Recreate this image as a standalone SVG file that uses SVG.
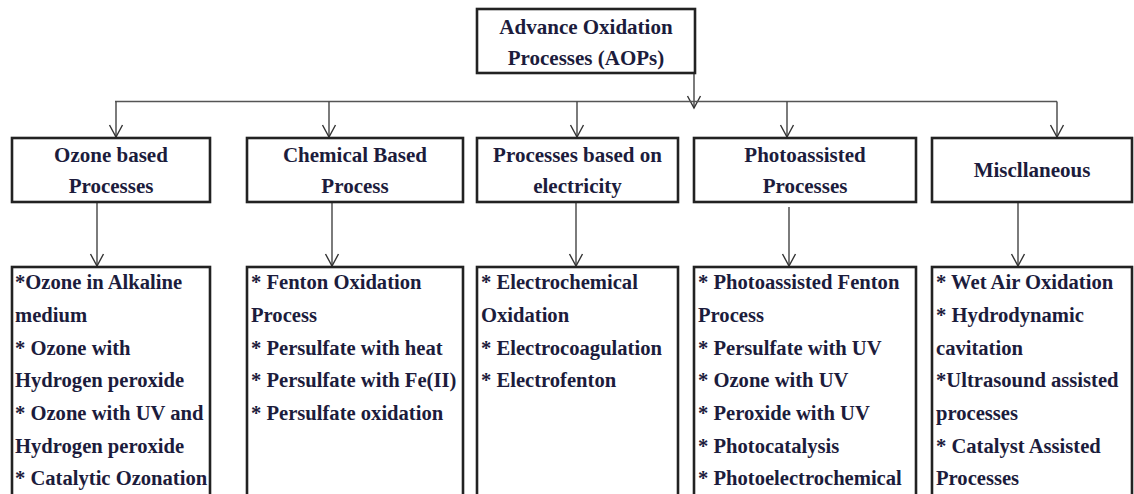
<svg xmlns="http://www.w3.org/2000/svg" width="1134" height="494" viewBox="0 0 1134 494">
<defs>
<style>
.box{fill:#fff;stroke:#222;stroke-width:2.6}
.hd{font-family:"Liberation Serif","Times New Roman",serif;font-weight:bold;font-size:21px;fill:#1c1c3c;text-anchor:middle}
.it{font-family:"Liberation Serif","Times New Roman",serif;font-weight:bold;font-size:20.6px;fill:#1c1c3c}
.ln{stroke:#555;stroke-width:1.4;fill:none}
.ar{stroke:#444;stroke-width:1.4;fill:none;marker-end:url(#arr)}
</style>
<marker id="arr" markerUnits="userSpaceOnUse" markerWidth="16" markerHeight="16" viewBox="0 0 16 16" refX="13" refY="8" orient="auto">
<path d="M1,1.5 L13,8 L1,14.5" fill="none" stroke="#333" stroke-width="1.4"/>
</marker>
</defs>
<rect width="1134" height="494" fill="#fff"/>

<g id="connectors">
<line class="ar" x1="694" y1="73" x2="694" y2="108"/>
<line class="ln" x1="115" y1="101.5" x2="1057" y2="101.5"/>
<line class="ar" x1="116" y1="101.5" x2="116" y2="137"/>
<line class="ar" x1="329" y1="101.5" x2="329" y2="137"/>
<line class="ar" x1="577" y1="101.5" x2="577" y2="137"/>
<line class="ar" x1="787" y1="101.5" x2="787" y2="137"/>
<line class="ar" x1="1057" y1="101.5" x2="1057" y2="137"/>
<line class="ar" x1="97" y1="203" x2="97" y2="266"/>
<line class="ar" x1="332" y1="203" x2="332" y2="266"/>
<line class="ar" x1="576" y1="203" x2="576" y2="266"/>
<line class="ar" x1="789" y1="207" x2="789" y2="266"/>
<line class="ar" x1="1018" y1="203" x2="1018" y2="266"/>
</g>

<g id="aops">
<rect class="box" x="477" y="9" width="218" height="64"/>
<text class="hd" x="586" y="34">Advance Oxidation</text>
<text class="hd" x="586" y="65">Processes (AOPs)</text>
</g>

<g id="ozone">
<rect class="box" x="12" y="138" width="198" height="64"/>
<text class="hd" x="111" y="162">Ozone based</text>
<text class="hd" x="111" y="193">Processes</text>
</g>
<g id="chemical">
<rect class="box" x="247" y="138" width="216" height="64"/>
<text class="hd" x="355" y="162">Chemical Based</text>
<text class="hd" x="355" y="193">Process</text>
</g>
<g id="electricity">
<rect class="box" x="477" y="138" width="201" height="64"/>
<text class="hd" x="577.5" y="162">Processes based on</text>
<text class="hd" x="577.5" y="193">electricity</text>
</g>
<g id="photo">
<rect class="box" x="694" y="138" width="222" height="64"/>
<text class="hd" x="805" y="162">Photoassisted</text>
<text class="hd" x="805" y="193">Processes</text>
</g>
<g id="misc">
<rect class="box" x="932" y="138" width="200" height="64"/>
<text class="hd" x="1032" y="177">Miscllaneous</text>
</g>

<g id="ozone-list">
<rect class="box" x="12" y="267" width="198" height="240"/>
<text class="it" x="15" y="289">*Ozone in Alkaline</text>
<text class="it" x="15" y="322">medium</text>
<text class="it" x="15" y="354.5">* Ozone with</text>
<text class="it" x="15" y="387">Hydrogen peroxide</text>
<text class="it" x="15" y="420">* Ozone with UV and</text>
<text class="it" x="15" y="452.5">Hydrogen peroxide</text>
<text class="it" x="15" y="485">* Catalytic Ozonation</text>
</g>
<g id="chemical-list">
<rect class="box" x="247" y="267" width="216" height="240"/>
<text class="it" x="251" y="289">* Fenton Oxidation</text>
<text class="it" x="251" y="322">Process</text>
<text class="it" x="251" y="354.5">* Persulfate with heat</text>
<text class="it" x="251" y="387">* Persulfate with Fe(II)</text>
<text class="it" x="251" y="420">* Persulfate oxidation</text>
</g>
<g id="electricity-list">
<rect class="box" x="477" y="267" width="201" height="240"/>
<text class="it" x="481" y="289">* Electrochemical</text>
<text class="it" x="481" y="322">Oxidation</text>
<text class="it" x="481" y="354.5">* Electrocoagulation</text>
<text class="it" x="481" y="387">* Electrofenton</text>
</g>
<g id="photo-list">
<rect class="box" x="694" y="267" width="222" height="240"/>
<text class="it" x="698" y="289">* Photoassisted Fenton</text>
<text class="it" x="698" y="322">Process</text>
<text class="it" x="698" y="354.5">* Persulfate with UV</text>
<text class="it" x="698" y="387">* Ozone with UV</text>
<text class="it" x="698" y="420">* Peroxide with UV</text>
<text class="it" x="698" y="452.5">* Photocatalysis</text>
<text class="it" x="698" y="485">* Photoelectrochemical</text>
</g>
<g id="misc-list">
<rect class="box" x="932" y="267" width="200" height="240"/>
<text class="it" x="936" y="289">* Wet Air Oxidation</text>
<text class="it" x="936" y="322">* Hydrodynamic</text>
<text class="it" x="936" y="354.5">cavitation</text>
<text class="it" x="936" y="387">*Ultrasound assisted</text>
<text class="it" x="936" y="420">processes</text>
<text class="it" x="936" y="452.5">* Catalyst Assisted</text>
<text class="it" x="936" y="485">Processes</text>
</g>
</svg>
